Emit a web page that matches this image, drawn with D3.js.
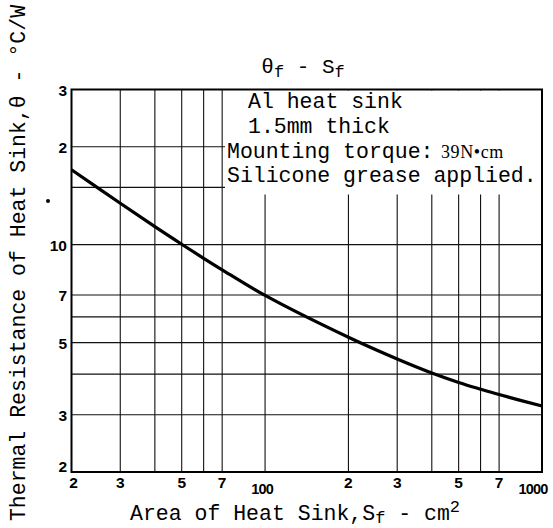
<!DOCTYPE html>
<html>
<head>
<meta charset="utf-8">
<script src="https://cdn.jsdelivr.net/npm/d3@7"></script>
<style>
html,body{margin:0;padding:0;background:#fff;}
svg{display:block;}
</style>
</head>
<body>
<script>
// ---- data ----
const areaValues = [20, 30, 40, 50, 60, 70, 100, 200, 300, 400, 500, 600, 700, 1000];
const thetaValues = [17.0, 13.41, 11.36, 10.03, 9.08, 8.37, 6.98, 5.19, 4.45, 4.03, 3.77, 3.595, 3.46, 3.19];
const xGridValues = [30, 40, 50, 60, 70, 100, 200, 300, 400, 500, 600, 700];
const yGridValues = [3, 4, 5, 6, 7, 10, 15, 20];
const xTickValues = [20, 30, 50, 70, 100, 200, 300, 500, 700, 1000];
const xTickLabels = ["2", "3", "5", "7", "100", "2", "3", "5", "7", "1000"];
const yTickValues = [30, 20, 10, 7, 5, 3, 2];
const yTickLabels = ["3", "2", "10", "7", "5", "3", "2"];
const noteLines = ["Al heat sink", "1.5mm thick", "Mounting torque:", "Silicone grease applied."];

const W = 553, H = 528;
const L = 71.5, R = 542, T = 89.5, B = 472;
const mono = "'Liberation Mono', 'Courier New', monospace";
const sans = "'Liberation Sans', Arial, sans-serif";

const svg = d3.select("body").append("svg").attr("width", W).attr("height", H);

const x = d3.scaleLog().domain([20, 1000]).range([L, R]);
const y = d3.scaleLog().domain([2, 30]).range([B, T]);

// grid
const g = svg.append("g");
g.selectAll("line.vx").data(xGridValues).enter().append("line")
  .attr("x1", d => x(d)).attr("x2", d => x(d)).attr("y1", T).attr("y2", B)
  .attr("stroke", "#111").attr("stroke-width", 1.1);
g.selectAll("line.hy").data(yGridValues).enter().append("line")
  .attr("x1", L).attr("x2", R).attr("y1", d => y(d)).attr("y2", d => y(d))
  .attr("stroke", "#111").attr("stroke-width", 1.1);

// white box behind the note
svg.append("rect").attr("x", 225).attr("y", T + 1).attr("width", R - 225 - 1).attr("height", 104)
  .attr("fill", "#fff");

// border
svg.append("rect").attr("x", L).attr("y", T).attr("width", R - L).attr("height", B - T)
  .attr("fill", "none").attr("stroke", "#000").attr("stroke-width", 2);

// curve
const line = d3.line().x((d, i) => x(areaValues[i])).y(d => y(d)).curve(d3.curveCatmullRom.alpha(0.5));
svg.append("path").attr("d", line(thetaValues)).attr("fill", "none")
  .attr("stroke", "#000").attr("stroke-width", 3.2);

// x tick labels
svg.selectAll("text.xt").data(xTickValues).enter().append("text")
  .attr("x", (d, i) => {
    const lbl = xTickLabels[i];
    if (lbl.length === 3) return x(d) - 3;
    if (lbl.length === 4) return x(d) - 9;
    return x(d) + (i === 0 ? 2 : 0);
  })
  .attr("y", (d, i) => xTickLabels[i].length > 2 ? 494 : 488)
  .attr("text-anchor", "middle")
  .attr("font-family", sans).attr("font-weight", "bold")
  .attr("font-size", (d, i) => xTickLabels[i].length > 2 ? 14.5 : 15.5)
  .attr("letter-spacing", (d, i) => xTickLabels[i].length > 2 ? -0.8 : 0)
  .text((d, i) => xTickLabels[i]);

// y tick labels
svg.selectAll("text.yt").data(yTickValues).enter().append("text")
  .attr("x", 67)
  .attr("y", (d, i) => i === yTickValues.length - 1 ? y(d) : y(d) + 6)
  .attr("text-anchor", "end")
  .attr("font-family", sans).attr("font-weight", "bold").attr("font-size", 15.5)
  .text((d, i) => yTickLabels[i]);

// title
const title = svg.append("text").attr("x", 303).attr("y", 73).attr("text-anchor", "middle")
  .attr("font-family", mono).attr("font-size", 21);
title.append("tspan").text("θ");
title.append("tspan").attr("font-size", 17).attr("dy", 4).text("f");
title.append("tspan").attr("dy", -4).text(" - S");
title.append("tspan").attr("font-size", 17).attr("dy", 4).text("f");

// note text
const noteX = [248, 248, 227, 227];
const noteY = [108, 133, 158, 182];
noteLines.forEach((t, i) => {
  svg.append("text").attr("x", noteX[i]).attr("y", noteY[i])
    .attr("font-family", mono).attr("font-size", 21.5).text(t);
  if (i === 2) {
    svg.append("text").attr("x", 441).attr("y", noteY[i])
      .attr("font-family", "'Liberation Serif', 'Times New Roman', serif")
      .attr("font-size", 18).attr("letter-spacing", 0.6).text("39N\u2022cm");
  }
});

// x axis label
const xl = svg.append("text").attr("x", 130).attr("y", 520)
  .attr("font-family", mono).attr("font-size", 21.5);
xl.append("tspan").text("Area of Heat Sink,S");
xl.append("tspan").attr("font-size", 17).attr("dy", 3).text("f");
xl.append("tspan").attr("dy", -3).text(" - cm");
xl.append("tspan").attr("font-size", 17).attr("dy", -8).text("2");

// y axis label
svg.append("text").attr("transform", "translate(25,263) rotate(-90)")
  .attr("text-anchor", "middle")
  .attr("font-family", mono).attr("font-size", 21.5)
  .text("Thermal Resistance of Heat Sink,θ - °C/W");

// scan speck
svg.append("circle").attr("cx", 48).attr("cy", 201).attr("r", 2).attr("fill", "#000");
</script>
</body>
</html>
